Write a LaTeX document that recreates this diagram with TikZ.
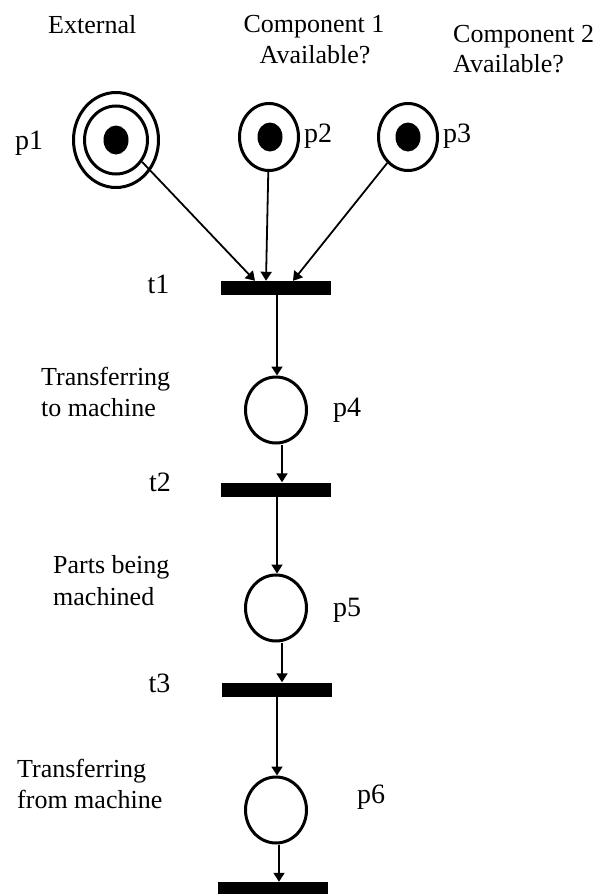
\documentclass[tikz,border=0pt]{standalone}
\usepackage{fontspec}
\setmainfont{Liberation Serif}
\usetikzlibrary{shapes.geometric,arrows.meta}
\begin{document}
\begin{tikzpicture}[x=1pt,y=-1pt,
  place/.style={ellipse,draw,line width=3pt,inner sep=0pt,minimum width=61pt,minimum height=66pt},
  token/.style={ellipse,fill,inner sep=0pt,minimum width=25pt,minimum height=29pt},
  tbar/.style={rectangle,fill,inner sep=0pt,minimum width=110pt,minimum height=14pt},
  arc/.style={line width=1.8pt,-{Triangle[length=9pt,width=11pt]}},
  txt/.style={font=\fontsize{26}{31}\selectfont,inner sep=0pt,anchor=base west},
  lbl/.style={font=\fontsize{28}{32}\selectfont,inner sep=0pt,anchor=base},
]
\useasboundingbox (0,0) rectangle (599,894);

% marked places at the top
\node[place,minimum width=85pt,minimum height=95pt] (p1) at (116,140) {};
\node[place,minimum width=63pt,minimum height=68pt] (p1in) at (116,140) {};
\node[token] (k1) at (116,140) {};
\node[place,minimum width=59pt,minimum height=67pt] (p2) at (269,137) {};
\node[token] (k2) at (270,137) {};
\node[place,minimum width=59pt,minimum height=67pt] (p3) at (408,137) {};
\node[token] (k3) at (408,137) {};

% transitions
\node[tbar] (t1) at (276,288) {};
\node[tbar] (t2) at (276,489.5) {};
\node[tbar] (t3) at (276.5,689.5) {};
\node[tbar] (t4) at (273,889) {};

% process places
\node[place] (p4) at (276,410) {};
\node[place] (p5) at (276,608) {};
\node[place] (p6) at (276,810) {};

% arcs
\draw[arc] (p1in.-40) -- ([xshift=-21pt]t1.north);
\draw[arc] (p2) -- ([xshift=-10pt]t1.north);
\draw[arc] (p3) -- ([xshift=17pt]t1.north);
\draw[arc] ([xshift=1pt]t1.south) -- ([xshift=1pt]p4.north);
\draw[arc] ([xshift=6pt]p4.south) -- ([xshift=6pt]t2.north);
\draw[arc] ([xshift=1pt]t2.south) -- ([xshift=1pt]p5.north);
\draw[arc] ([xshift=6pt]p5.south) -- ([xshift=5.5pt]t3.north);
\draw[arc] ([xshift=0.5pt]t3.south) -- ([xshift=1pt]p6.north);
\draw[arc] ([xshift=3pt]p6.south) -- ([xshift=6pt]t4.north);

% headings
\node[txt] (hext) at (48,33) {External};
\node[txt,anchor=base] (hc1a) at (314,32) {Component 1};
\node[txt,anchor=base] (hc1b) at (315,63) {Available?};
\node[txt] (hc2a) at (453,42) {Component 2};
\node[txt] (hc2b) at (453,72) {Available?};

% side descriptions
\node[txt] (d4a) at (41,385) {Transferring};
\node[txt] (d4b) at (41,416) {to machine};
\node[txt] (d5a) at (53,573) {Parts being};
\node[txt] (d5b) at (53,605) {machined};
\node[txt] (d6a) at (17,777) {Transferring};
\node[txt] (d6b) at (17,808) {from machine};

% place and transition labels
\node[lbl] (l1) at (29,149) {p1};
\node[lbl] (l2) at (318,142) {p2};
\node[lbl] (l3) at (457,142) {p3};
\node[lbl] (l4) at (347,416) {p4};
\node[lbl] (l5) at (347,616) {p5};
\node[lbl] (l6) at (371,803) {p6};
\node[lbl] (lt1) at (158.5,293) {t1};
\node[lbl] (lt2) at (160,491) {t2};
\node[lbl] (lt3) at (159.5,692) {t3};
\end{tikzpicture}
\end{document}
